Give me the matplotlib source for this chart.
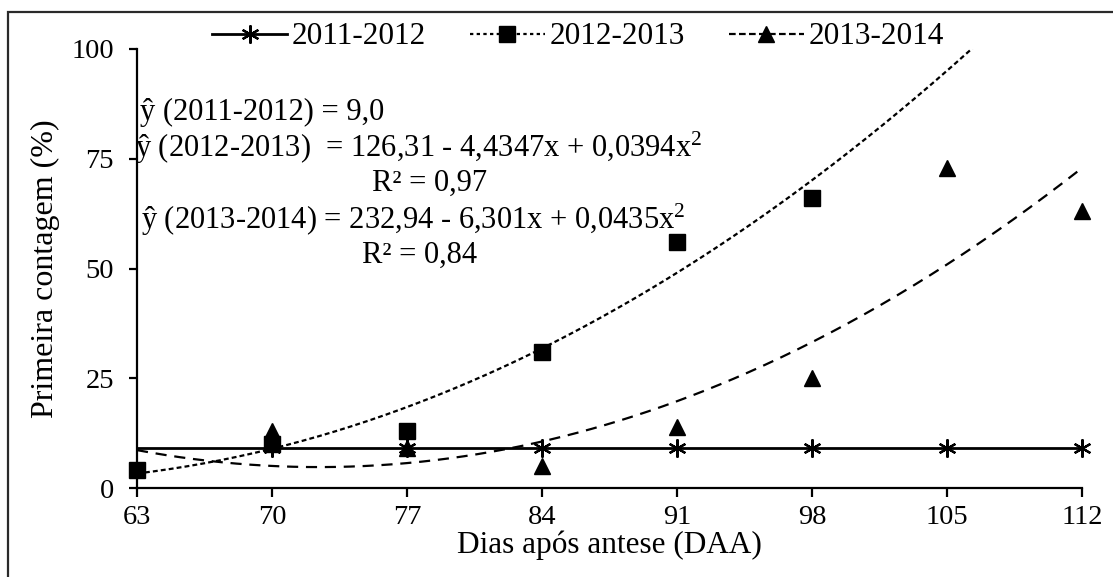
import numpy as np
import matplotlib
matplotlib.use('Agg')
import matplotlib.pyplot as plt
from matplotlib.lines import Line2D
from matplotlib.patches import Rectangle

# ---- data ----
day_ticks = [63, 70, 77, 84, 91, 98, 105, 112]
y_ticks = [0, 25, 50, 75, 100]
x_2011 = [70, 77, 84, 91, 98, 105, 112]
y_2011 = [9, 9, 9, 9, 9, 9, 9]
x_2012 = [63, 70, 77, 84, 91, 98]
y_2012 = [4, 10, 13, 31, 56, 66]
x_2013 = [70, 77, 84, 91, 98, 105, 112]
y_2013 = [13, 9, 5, 14, 25, 73, 63]
coef_2011 = [9.0]
coef_2012 = [0.0394, -4.4347, 126.31]
coef_2013 = [0.0435, -6.301, 232.94]
labels = ['2011-2012', '2012-2013', '2013-2014']

plt.rcParams['font.family'] = ['Liberation Serif', 'DejaVu Serif']
plt.rcParams['mathtext.fontset'] = 'custom'
plt.rcParams['mathtext.rm'] = 'Liberation Serif'
plt.rcParams['mathtext.it'] = 'Liberation Serif:italic'

W, H = 1113, 577
fig = plt.figure(figsize=(W / 100, H / 100), dpi=100)
ax = fig.add_axes([137 / W, 1 - 488 / H, (1082 - 137) / W, (488 - 49) / H])

xs = np.linspace(63, 112, 400)
ax.plot(xs, np.full_like(xs, np.polyval(coef_2011, 63)), color='black', lw=2.0, solid_capstyle='butt')
ax.plot(xs, np.polyval(coef_2012, xs), color='black', lw=1.6, dashes=(2.2, 1.4))
ax.plot(xs, np.polyval(coef_2013, xs), color='black', lw=1.6, dashes=(5, 3.5))

ax.plot(x_2011, y_2011, ls='none', marker=(6, 2, 0), ms=13, mec='black', mew=1.6, clip_on=False)
ax.plot(x_2013, y_2013, ls='none', marker='^', ms=12, mfc='black', mec='black', clip_on=False)
ax.plot(x_2012, y_2012, ls='none', marker='s', ms=11.5, mfc='black', mec='black', clip_on=False)

ax.set_xlim(63, 112)
ax.set_ylim(0, 100)
ax.set_xticks(day_ticks)
ax.set_yticks(y_ticks)
ax.spines['top'].set_visible(False)
ax.spines['right'].set_visible(False)
for s in ['left', 'bottom']:
    ax.spines[s].set_linewidth(1.6)
ax.tick_params(axis='x', direction='out', length=6.5, width=1.6, labelsize=20.5, pad=6)
ax.tick_params(axis='y', direction='out', length=5.5, width=1.6, labelsize=20.5, pad=11)
ax.set_xlabel('Dias após antese (DAA)', fontsize=22.5, labelpad=0)
ax.set_ylabel('Primeira contagem (%)', fontsize=23, labelpad=8)

def fp(px, py):
    return (px / W, 1 - py / H)

eqs = [
    ('ŷ (2011-2012) = 9,0', 140, 112),
    ('ŷ (2012-2013)  = 126,31 - 4,4347x + 0,0394x$^{\\mathrm{2}}$', 135, 148),
    ('R² = 0,97', 372, 183),
    ('ŷ (2013-2014) = 232,94 - 6,301x + 0,0435x$^{\\mathrm{2}}$', 141, 220),
    ('R² = 0,84', 362, 255),
]
for t, px, py in eqs:
    fig.text(*fp(px, py), t, fontsize=22, ha='left', va='center')

handles = [
    Line2D([], [], color='black', lw=2.0, marker=(6, 2, 0), ms=13, mew=1.6),
    Line2D([], [], color='black', lw=1.6, dashes=(1.5, 1.5), marker='s', ms=11),
    Line2D([], [], color='black', lw=1.6, dashes=(3, 1.5), marker='^', ms=11),
]
fig.legend(handles, labels, loc='center', bbox_to_anchor=fp(578, 37), ncol=3,
           frameon=False, fontsize=22.5, handlelength=2.4, handletextpad=0.15,
           columnspacing=1.4, borderaxespad=0, borderpad=0)

fig.patches.append(Rectangle((8 / W, -0.1), 1.2, 1 - 12 / H + 0.1, transform=fig.transFigure,
                             fill=False, edgecolor='#2a2a2a', lw=1.6))

fig.savefig('out.png', dpi=100)
